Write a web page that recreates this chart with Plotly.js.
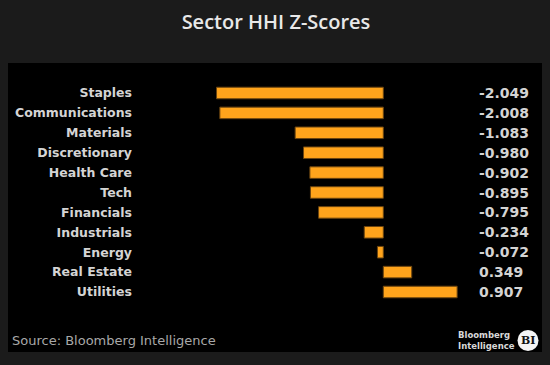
<!DOCTYPE html>
<html>
<head>
<meta charset="utf-8">
<script src="https://cdn.plot.ly/plotly-3.0.1.min.js"></script>
<style>html,body{margin:0;padding:0;background:#1b1b1b;}#chart{width:550px;height:365px;}</style>
</head>
<body>
<div id="chart"></div>
<script>
var sectors = ["Staples","Communications","Materials","Discretionary","Health Care","Tech","Financials","Industrials","Energy","Real Estate","Utilities"];
var zScores = [-2.049,-2.008,-1.083,-0.980,-0.902,-0.895,-0.795,-0.234,-0.072,0.349,0.907];
var valueLabels = ["-2.049","-2.008","-1.083","-0.980","-0.902","-0.895","-0.795","-0.234","-0.072","0.349","0.907"];

var W = 550, H = 365;
var L = 140, R = 80, T = 83, B = 63;
var pw = W - L - R, ph = H - T - B;
function px2x(p){ return (p - L) / pw; }
function px2y(p){ return 1 - (p - T) / ph; }

var trace = {
  type: 'bar',
  orientation: 'h',
  y: sectors,
  x: zScores,
  width: 0.58,
  marker: {color: '#ffa41c', line: {color: '#6b4510', width: 1}},
  hoverinfo: 'none'
};

var annotations = sectors.map(function(s, i){
  return {
    x: px2x(477), xref: 'paper', xanchor: 'left',
    y: s, yref: 'y', yanchor: 'middle',
    text: valueLabels[i], showarrow: false,
    font: {family: 'DejaVu Sans', size: 14, color: '#d4d4d4', weight: 'bold'}
  };
});
annotations.push({
  x: px2x(10), xref: 'paper', xanchor: 'left',
  y: px2y(340), yref: 'paper', yanchor: 'middle',
  text: 'Source: Bloomberg Intelligence', showarrow: false,
  font: {family: 'DejaVu Sans', size: 13, color: '#a8a8a8'}
});
annotations.push({
  x: px2x(456), xref: 'paper', xanchor: 'left',
  y: px2y(340), yref: 'paper', yanchor: 'middle',
  text: 'Bloomberg<br>Intelligence', showarrow: false, align: 'left',
  font: {family: 'DejaVu Sans', size: 8.5, color: '#d8d8d8', weight: 'bold'}
});
annotations.push({
  x: px2x(528), xref: 'paper', xanchor: 'center',
  y: px2y(340.5), yref: 'paper', yanchor: 'middle',
  text: 'BI', showarrow: false,
  font: {family: 'DejaVu Serif', size: 11, color: '#111111', weight: 'bold'}
});

var layout = {
  width: W, height: H,
  margin: {l: L, r: R, t: T, b: B, pad: 0},
  paper_bgcolor: '#1b1b1b',
  plot_bgcolor: 'rgba(0,0,0,0)',
  showlegend: false,
  title: {
    text: 'Sector HHI Z-Scores',
    x: 276 / W, xref: 'container', xanchor: 'center',
    y: 1 - 22 / H, yref: 'container', yanchor: 'middle',
    font: {family: 'Open Sans', size: 20, color: '#e8e8e8', weight: 600}
  },
  xaxis: {
    range: [-2.989, 1.065],
    showgrid: false, zeroline: false, showticklabels: false, showline: false, ticks: ''
  },
  yaxis: {
    type: 'category',
    autorange: 'reversed',
    showgrid: false, zeroline: false, showline: false, ticks: '',
    ticklabelstandoff: 7,
    tickfont: {family: 'DejaVu Sans', size: 12.5, color: '#d4d4d4', weight: 'bold'}
  },
  shapes: [
    {type: 'rect', xref: 'paper', yref: 'paper', layer: 'below',
     x0: px2x(8), x1: px2x(542), y0: px2y(352), y1: px2y(63),
     fillcolor: '#000000', line: {width: 0}},
    {type: 'circle', xref: 'paper', yref: 'paper', layer: 'above',
     x0: px2x(517.5), x1: px2x(538.5), y0: px2y(351), y1: px2y(330),
     fillcolor: '#f4f4f4', line: {width: 0}}
  ],
  annotations: annotations
};

Plotly.newPlot('chart', [trace], layout, {displayModeBar: false, staticPlot: true});
</script>
</body>
</html>
